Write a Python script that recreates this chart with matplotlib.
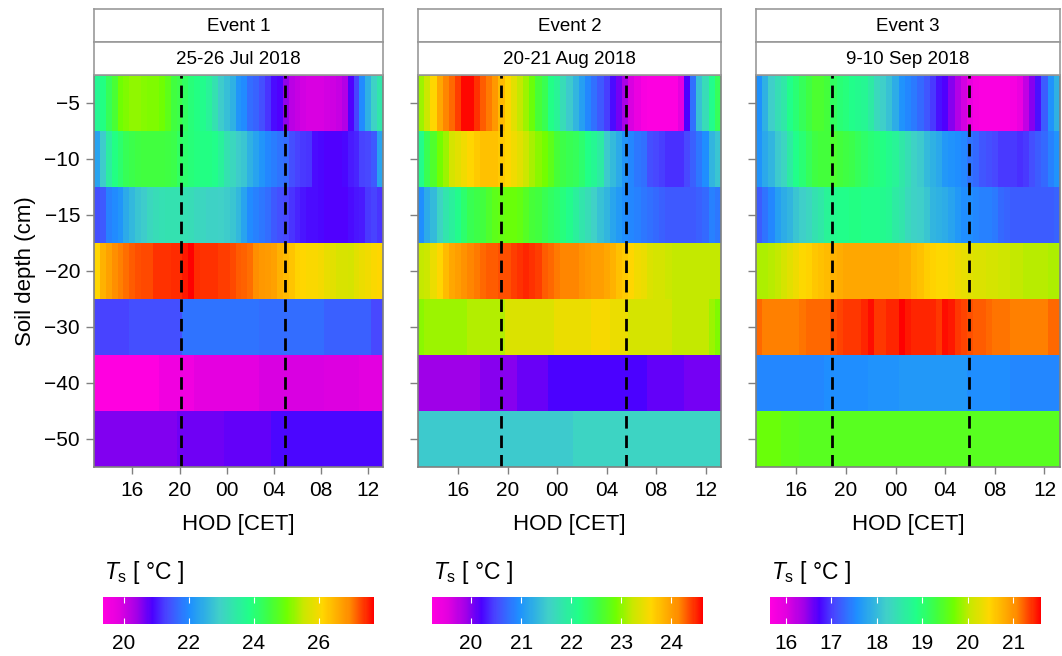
import numpy as np
import matplotlib.pyplot as plt
from matplotlib.colors import LinearSegmentedColormap, Normalize
from matplotlib.cm import ScalarMappable

plt.rcParams['font.family'] = ['Liberation Sans', 'DejaVu Sans']
plt.rcParams['mathtext.fontset'] = 'custom'
plt.rcParams['mathtext.rm'] = 'Liberation Sans'
plt.rcParams['mathtext.it'] = 'Liberation Sans:italic'

## soil depths (rows) and half-hourly time stamps, hours after midnight of day 1 (CET)
depth_labels = ['\u22125', '\u221210', '\u221215', '\u221220', '\u221230', '\u221240', '\u221250']
hod_start, hod_step, n_steps = 13.0, 0.5, 49

ev_names = ['Event 1', 'Event 2', 'Event 3']
ev_dates = ['25-26 Jul 2018', '20-21 Aug 2018', '9-10 Sep 2018']

## colour scale limits and colourbar ticks per event
ts_min = [19.37, 19.22, 15.65]
ts_max = [27.69, 24.63, 21.61]
cb_ticks = [[20, 22, 24, 26], [20, 21, 22, 23, 24], [16, 17, 18, 19, 20, 21]]

## sunset / sunrise (hours, CET; >24 means next day)
sunset = [20.15, 19.5, 18.9]
sunrise = [28.95, 29.55, 29.95]

## soil temperature (degC), one list per depth, half-hourly 13:00 -> 13:00
ev1_5 = [23.7, 23.9, 24.3, 24.6, 25.0, 25.1, 25.2, 25.2, 25.15, 25.1,
         25.1, 25.0, 24.8, 24.5, 24.4, 24.2, 24.0, 23.9, 23.8, 23.6,
         23.3, 22.9, 22.7, 22.5, 22.1, 22.0, 21.7, 21.6, 21.4, 21.2,
         20.95, 20.85, 20.5, 20.2, 20.1, 20.0, 19.95, 19.95, 19.95, 20.0,
         20.05, 20.1, 20.25, 20.85, 21.3, 22.0, 22.5, 23.0, 23.4]
ev1_10 = [22.3, 22.9, 23.5, 23.9, 24.1, 24.3, 24.4, 24.45, 24.5, 24.5,
          24.5, 24.5, 24.45, 24.4, 24.2, 24.1, 24.0, 23.95, 23.9, 23.9,
          23.85, 23.6, 23.3, 23.1, 22.9, 22.8, 22.5, 22.3, 22.1, 21.95,
          21.85, 21.75, 21.7, 21.4, 21.3, 21.25, 21.2, 20.95, 20.9, 20.85,
          20.85, 20.85, 20.9, 21.05, 21.1, 21.3, 21.35, 21.5, 22.3]
ev1_15 = [21.4, 21.5, 21.9, 22.0, 22.1, 22.4, 22.6, 22.8, 22.9, 23.1,
          23.2, 23.25, 23.3, 23.3, 23.3, 23.25, 23.2, 23.1, 23.05, 23.0,
          23.0, 22.95, 22.9, 22.8, 22.6, 22.3, 22.0, 21.9, 21.8, 21.7,
          21.5, 21.4, 21.35, 21.2, 21.1, 21.0, 20.95, 20.95, 20.9, 20.85,
          20.85, 20.85, 20.85, 20.95, 21.0, 21.05, 21.25, 21.3, 21.2]
ev1_20 = [26.1, 26.5, 26.7, 26.9, 27.0, 27.1, 27.2, 27.25, 27.3, 27.3,
          27.4, 27.4, 27.4, 27.45, 27.45, 27.55, 27.7, 27.45, 27.4, 27.4,
          27.4, 27.35, 27.35, 27.3, 27.2, 27.15, 27.1, 26.9, 26.8, 26.75,
          26.7, 26.5, 26.4, 26.3, 26.15, 26.1, 26.05, 26.05, 26.0, 25.85,
          25.8, 25.7, 25.7, 25.65, 25.8, 25.9, 25.95, 26.05, 26.1]
ev1_30 = [21.3, 21.3, 21.3, 21.3, 21.3, 21.3, 21.4, 21.4, 21.4, 21.4,
          21.4, 21.4, 21.4, 21.4, 21.4, 21.75, 21.75, 21.75, 21.75, 21.75,
          21.75, 21.75, 21.75, 21.75, 21.75, 21.75, 21.75, 21.75, 21.7, 21.7,
          21.7, 21.7, 21.7, 21.7, 21.7, 21.7, 21.7, 21.7, 21.7, 21.55,
          21.55, 21.55, 21.55, 21.55, 21.55, 21.55, 21.55, 21.35, 21.35]
ev1_40 = [19.4, 19.4, 19.4, 19.4, 19.4, 19.4, 19.4, 19.4, 19.4, 19.4,
          19.4, 19.6, 19.6, 19.6, 19.6, 19.6, 19.6, 19.8, 19.8, 19.8,
          19.8, 19.8, 19.8, 19.8, 19.8, 19.8, 19.8, 19.8, 19.95, 19.95,
          19.95, 19.95, 19.95, 19.95, 19.95, 19.95, 19.95, 19.95, 19.95, 19.9,
          19.9, 19.9, 19.9, 19.9, 19.9, 19.85, 19.85, 19.85, 19.85]
ev1_50 = [20.6, 20.6, 20.6, 20.6, 20.6, 20.6, 20.6, 20.6, 20.6, 20.6,
          20.6, 20.6, 20.6, 20.6, 20.68, 20.68, 20.68, 20.68, 20.68, 20.68,
          20.68, 20.68, 20.75, 20.75, 20.75, 20.75, 20.75, 20.75, 20.75, 20.75,
          20.9, 20.9, 20.9, 20.9, 20.9, 20.9, 20.9, 20.9, 20.9, 20.9,
          20.9, 20.9, 20.9, 20.9, 20.9, 20.9, 20.9, 20.9, 20.9]

ev2_5 = [23.05, 23.25, 23.6, 23.95, 24.15, 24.25, 24.4, 24.6, 24.6, 24.45,
         24.3, 24.2, 24.05, 23.8, 23.6, 23.4, 23.2, 23.05, 22.85, 22.6,
         22.45, 22.15, 22.0, 21.7, 21.5, 21.3, 21.1, 20.9, 20.75, 20.6,
         20.45, 20.25, 20.05, 19.85, 19.6, 19.45, 19.3, 19.25, 19.25, 19.25,
         19.25, 19.25, 19.5, 20.2, 20.75, 21.4, 21.7, 22.1, 22.4]
ev2_10 = [22.1, 22.45, 22.65, 22.9, 23.05, 23.3, 23.4, 23.5, 23.6, 23.7,
          23.75, 23.75, 23.75, 23.7, 23.6, 23.5, 23.4, 23.25, 23.1, 23.0,
          22.9, 22.75, 22.6, 22.5, 22.45, 22.4, 22.3, 22.15, 22.05, 21.9,
          21.5, 21.35, 21.2, 21.0, 20.9, 20.8, 20.75, 20.55, 20.5, 20.45,
          20.4, 20.4, 20.4, 20.5, 20.65, 20.8, 20.95, 21.3, 21.45]
ev2_15 = [20.95, 21.2, 21.35, 21.6, 21.8, 21.95, 22.1, 22.3, 22.45, 22.5,
          22.55, 22.65, 22.75, 22.8, 22.85, 22.85, 22.8, 22.7, 22.6, 22.55,
          22.45, 22.35, 22.3, 22.2, 22.1, 21.95, 21.8, 21.7, 21.55, 21.4,
          21.3, 21.15, 21.05, 20.95, 20.9, 20.85, 20.8, 20.75, 20.7, 20.65,
          20.6, 20.6, 20.6, 20.6, 20.6, 20.65, 20.7, 20.85, 20.8]
ev2_20 = [23.2, 23.25, 23.45, 23.6, 23.8, 23.95, 24.0, 24.1, 24.15, 24.2,
          24.25, 24.3, 24.3, 24.35, 24.35, 24.4, 24.45, 24.5, 24.45, 24.4,
          24.3, 24.25, 24.2, 24.15, 24.15, 24.15, 24.1, 24.05, 24.0, 24.0,
          23.95, 23.85, 23.75, 23.7, 23.6, 23.5, 23.45, 23.35, 23.3, 23.3,
          23.25, 23.2, 23.2, 23.2, 23.2, 23.2, 23.2, 23.2, 23.2]
ev2_30 = [23.0, 23.05, 23.05, 23.05, 23.05, 23.05, 23.05, 23.05, 23.15, 23.15,
          23.15, 23.15, 23.15, 23.15, 23.35, 23.35, 23.35, 23.35, 23.35, 23.35,
          23.35, 23.35, 23.45, 23.45, 23.45, 23.45, 23.45, 23.45, 23.55, 23.55,
          23.55, 23.45, 23.45, 23.45, 23.3, 23.3, 23.3, 23.3, 23.3, 23.3,
          23.3, 23.2, 23.2, 23.2, 23.2, 23.2, 23.2, 23.05, 22.95]
ev2_40 = [19.9, 19.9, 19.9, 19.9, 19.9, 19.9, 19.9, 19.9, 19.9, 19.9,
          20.0, 20.0, 20.0, 20.0, 20.0, 20.0, 20.1, 20.1, 20.1, 20.1,
          20.1, 20.2, 20.2, 20.2, 20.2, 20.2, 20.2, 20.2, 20.2, 20.2,
          20.2, 20.2, 20.2, 20.2, 20.2, 20.2, 20.2, 20.12, 20.12, 20.12,
          20.12, 20.12, 20.12, 20.05, 20.05, 20.05, 20.05, 20.05, 20.05]
ev2_50 = [21.5, 21.5, 21.5, 21.5, 21.5, 21.5, 21.5, 21.5, 21.5, 21.5,
          21.5, 21.5, 21.5, 21.5, 21.5, 21.5, 21.5, 21.5, 21.5, 21.5,
          21.5, 21.5, 21.5, 21.5, 21.5, 21.6, 21.6, 21.6, 21.6, 21.6,
          21.6, 21.6, 21.6, 21.6, 21.6, 21.6, 21.6, 21.6, 21.6, 21.6,
          21.6, 21.6, 21.6, 21.6, 21.6, 21.6, 21.6, 21.6, 21.6]

ev3_5 = [17.56, 17.9, 18.2, 18.4, 18.55, 18.85, 19.0, 19.15, 19.3, 19.4,
         19.4, 19.35, 19.1, 19.0, 18.95, 18.85, 18.8, 18.75, 18.6, 18.35,
         18.2, 18.05, 17.85, 17.6, 17.5, 17.4, 17.3, 17.15, 17.0, 16.8,
         16.7, 16.5, 16.3, 16.1, 15.9, 15.75, 15.7, 15.7, 15.7, 15.7,
         15.7, 15.75, 15.9, 16.2, 16.5, 16.8, 17.2, 17.6, 17.9]
ev3_10 = [17.6, 17.8, 17.95, 18.15, 18.3, 18.6, 18.85, 19.0, 19.15, 19.3,
          19.35, 19.35, 19.4, 19.35, 19.3, 19.25, 19.15, 19.05, 19.0, 18.95,
          18.9, 18.8, 18.7, 18.55, 18.4, 18.25, 18.15, 18.0, 17.9, 17.8,
          17.65, 17.6, 17.55, 17.5, 17.35, 17.3, 17.15, 17.1, 17.05, 17.0,
          17.0, 17.0, 16.95, 17.0, 17.1, 17.2, 17.3, 17.45, 17.6]
ev3_15 = [17.2, 17.35, 17.5, 17.7, 17.85, 17.95, 18.1, 18.2, 18.3, 18.45,
          18.55, 18.7, 18.8, 18.85, 18.85, 18.9, 18.9, 18.85, 18.85, 18.85,
          18.8, 18.75, 18.6, 18.5, 18.35, 18.25, 18.2, 18.1, 17.95, 17.9,
          17.85, 17.75, 17.65, 17.55, 17.55, 17.5, 17.45, 17.45, 17.4, 17.3,
          17.25, 17.2, 17.2, 17.2, 17.2, 17.2, 17.2, 17.2, 17.25]
ev3_20 = [19.95, 19.95, 20.0, 20.05, 20.15, 20.25, 20.35, 20.45, 20.5, 20.6,
          20.65, 20.7, 20.75, 20.8, 20.85, 20.85, 20.85, 20.85, 20.85, 20.85,
          20.85, 20.85, 20.85, 20.8, 20.8, 20.7, 20.65, 20.55, 20.5, 20.45,
          20.45, 20.4, 20.35, 20.3, 20.25, 20.2, 20.2, 20.15, 20.15, 20.1,
          20.1, 20.05, 20.05, 20.0, 20.0, 20.0, 20.0, 19.95, 19.95]
ev3_30 = [21.2, 21.1, 21.1, 21.1, 21.1, 21.1, 21.1, 21.15, 21.2, 21.2,
          21.2, 21.2, 21.3, 21.35, 21.4, 21.4, 21.4, 21.45, 21.55, 21.4,
          21.4, 21.45, 21.45, 21.6, 21.5, 21.45, 21.45, 21.45, 21.45, 21.4,
          21.55, 21.5, 21.4, 21.35, 21.3, 21.25, 21.25, 21.2, 21.15, 21.15,
          21.15, 21.1, 21.1, 21.1, 21.1, 21.1, 21.1, 21.2, 21.2]
ev3_40 = [17.5, 17.5, 17.5, 17.5, 17.5, 17.5, 17.5, 17.5, 17.5, 17.5,
          17.5, 17.55, 17.55, 17.55, 17.55, 17.55, 17.55, 17.55, 17.6, 17.6,
          17.6, 17.6, 17.6, 17.65, 17.65, 17.65, 17.65, 17.65, 17.65, 17.65,
          17.65, 17.65, 17.65, 17.65, 17.55, 17.55, 17.55, 17.55, 17.55, 17.55,
          17.55, 17.5, 17.5, 17.5, 17.5, 17.5, 17.5, 17.5, 17.5]
ev3_50 = [19.65, 19.65, 19.65, 19.65, 19.55, 19.55, 19.55, 19.5, 19.5, 19.5,
          19.5, 19.5, 19.5, 19.5, 19.5, 19.5, 19.5, 19.5, 19.5, 19.5,
          19.5, 19.5, 19.5, 19.5, 19.5, 19.5, 19.5, 19.5, 19.5, 19.5,
          19.5, 19.5, 19.5, 19.5, 19.5, 19.5, 19.5, 19.5, 19.5, 19.5,
          19.5, 19.5, 19.5, 19.5, 19.5, 19.5, 19.5, 19.5, 19.5]

events = [
    [ev1_5, ev1_10, ev1_15, ev1_20, ev1_30, ev1_40, ev1_50],
    [ev2_5, ev2_10, ev2_15, ev2_20, ev2_30, ev2_40, ev2_50],
    [ev3_5, ev3_10, ev3_15, ev3_20, ev3_30, ev3_40, ev3_50],
]

## magenta -> blue -> green -> yellow -> red palette
cmap = LinearSegmentedColormap.from_list('ts_rainbow', [
    (0.0, '#FF00E0'), (0.06, '#E000E0'), (0.125, '#A000E8'), (0.18, '#4B00FF'),
    (0.235, '#4848FF'), (0.32, '#1E90FF'), (0.43, '#40D0C8'), (0.54, '#20FF88'),
    (0.615, '#40FF40'), (0.68, '#70FF00'), (0.74, '#C8E800'), (0.81, '#FFD700'),
    (0.91, '#FF8C00'), (1.0, '#FF0000')])

W, H = 1062, 656
fig = plt.figure(figsize=(W / 100, H / 100), dpi=100)


def box(x0, y0, x1, y1):
    # pixel box (top-left origin) -> figure fraction rect
    return [x0 / W, 1 - y1 / H, (x1 - x0) / W, (y1 - y0) / H]


panel_x = [(94, 383), (418, 721), (756, 1060)]
cbar_x = [(103, 374), (432, 703), (770, 1041)]

hod = hod_start + hod_step * np.arange(n_steps)
t_edges = np.append(hod - hod_step / 2, hod[-1] + hod_step / 2)
spine_col = '#808080'

for i in range(3):
    x0, x1 = panel_x[i]
    ax = fig.add_axes(box(x0, 75, x1, 467))
    norm = Normalize(ts_min[i], ts_max[i])
    ax.pcolormesh(t_edges, np.arange(len(depth_labels) + 1), np.array(events[i]),
                  cmap=cmap, norm=norm, shading='flat')
    ax.set_xlim(t_edges[0], t_edges[-1])
    ax.set_ylim(len(depth_labels), 0)

    for xv in (sunset[i], sunrise[i]):
        ax.axvline(xv, color='k', lw=2.0, ls=(0, (4.5, 2.5)))

    ax.set_xticks([16, 20, 24, 28, 32, 36])
    ax.set_xticklabels(['16', '20', '00', '04', '08', '12'])
    ax.set_yticks(np.arange(len(depth_labels)) + 0.5)
    if i == 0:
        ax.set_yticklabels(depth_labels)
        ax.set_ylabel('Soil depth (cm)', fontsize=16, labelpad=6)
    else:
        ax.set_yticklabels([])
    ax.tick_params(axis='x', length=5, width=1, color=spine_col,
                   labelsize=15, pad=5)
    ax.tick_params(axis='y', length=6, width=1, color=spine_col,
                   labelsize=15, pad=4)
    ax.set_xlabel('HOD [CET]', fontsize=16, labelpad=10)
    for sp in ax.spines.values():
        sp.set_color(spine_col)
        sp.set_linewidth(1.2)

    # two header strips above each panel
    for (y0, y1, txt) in [(9, 42, ev_names[i]), (42, 75, ev_dates[i])]:
        sax = fig.add_axes(box(x0, y0, x1, y1))
        sax.set_xticks([])
        sax.set_yticks([])
        for sp in sax.spines.values():
            sp.set_color('#999999')
            sp.set_linewidth(1.2)
        sax.text(0.5, 0.48, txt, ha='center', va='center', fontsize=13.5,
                 transform=sax.transAxes)

    # colour bar underneath
    c0, c1 = cbar_x[i]
    cax = fig.add_axes(box(c0, 597, c1, 624))
    cb = fig.colorbar(ScalarMappable(norm=norm, cmap=cmap), cax=cax,
                      orientation='horizontal', ticks=cb_ticks[i])
    cb.outline.set_visible(False)
    cax.tick_params(axis='x', direction='in', length=4, width=0.8,
                    color='white', labelcolor='black', labelsize=15,
                    pad=7, top=True)
    fig.text((c0 + 1) / W, 1 - 572 / H, r'$T_\mathrm{s}$ [ °C ]',
             fontsize=16.5, va='center', ha='left')

fig.savefig('out.png', dpi=100)
